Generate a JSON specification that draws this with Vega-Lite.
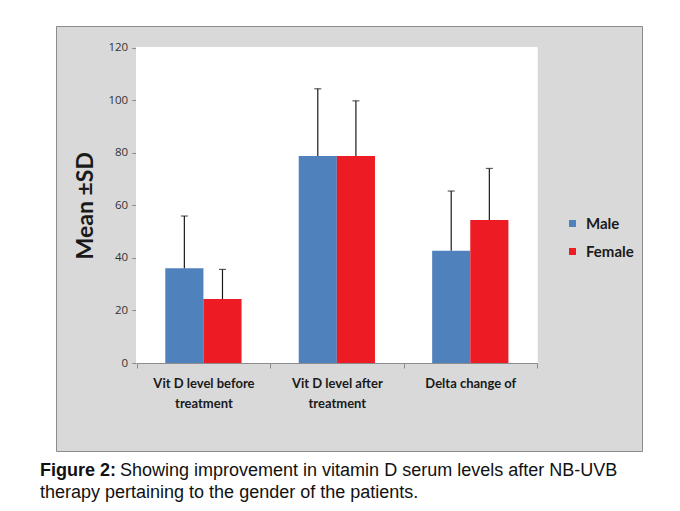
{
  "$schema": "https://vega.github.io/schema/vega-lite/v6.json",
  "autosize": {"type": "none"},
  "padding": {"left": 56, "top": 26, "right": 38, "bottom": 60},
  "width": 586,
  "height": 425,
  "background": "white",
  "config": {
    "view": {"fill": "#d9d9d9", "stroke": "#8c8c8c", "strokeWidth": 1},
    "axis": {"grid": false}
  },
  "title": {
    "text": "Figure 2:",
    "subtitle": ["\u200b\u00a0\u00a0\u00a0\u00a0\u00a0\u00a0\u00a0\u00a0\u00a0\u00a0\u00a0\u00a0\u00a0\u00a0\u00a0\u00a0Showing improvement in vitamin D serum levels after NB-UVB", "therapy pertaining to the gender of the patients."],
    "orient": "bottom",
    "anchor": "start",
    "frame": "group",
    "dx": -16,
    "offset": 11,
    "font": "Liberation Sans",
    "fontSize": 18,
    "fontWeight": "bold",
    "color": "#111111",
    "subtitleFont": "Liberation Sans",
    "subtitleFontSize": 18,
    "subtitleFontWeight": "normal",
    "subtitleColor": "#111111",
    "subtitleLineHeight": 22,
    "subtitlePadding": -18
  },
  "data": {
    "values": [
      {"category": "Vit D level before treatment", "sex": "Male", "mean": 36.0, "upper": 55.9},
      {"category": "Vit D level before treatment", "sex": "Female", "mean": 24.3, "upper": 35.6},
      {"category": "Vit D level after treatment", "sex": "Male", "mean": 78.7, "upper": 104.3},
      {"category": "Vit D level after treatment", "sex": "Female", "mean": 78.7, "upper": 99.7},
      {"category": "Delta change of", "sex": "Male", "mean": 42.7, "upper": 65.4},
      {"category": "Delta change of", "sex": "Female", "mean": 54.4, "upper": 74.0}
    ]
  },
  "encoding": {
    "x": {
      "field": "category",
      "type": "nominal",
      "sort": null,
      "scale": {"range": [80.7, 481], "paddingInner": 0, "paddingOuter": 0},
      "axis": {
        "title": null,
        "offset": -88,
        "labelAngle": 0,
        "labelFont": "Lato",
        "labelFontWeight": "bold",
        "labelFontSize": 13,
        "labelColor": "#1a1a1a",
        "labelPadding": 9,
        "labelLineHeight": 20,
        "labelLimit": 200,
        "labelExpr": "indexof(datum.label, ' treatment') > 0 ? [slice(datum.label, 0, indexof(datum.label, ' treatment')), 'treatment'] : datum.label",
        "tickBand": "extent",
        "tickSize": 5,
        "tickColor": "#8c8c8c",
        "domainColor": "#8c8c8c"
      }
    }
  },
  "layer": [
    {
      "mark": {"type": "rect", "fill": "white", "stroke": "white", "strokeWidth": 1},
      "encoding": {
        "y": {"datum": 0, "type": "quantitative", "scale": {"domain": [0, 120], "range": [337, 21.5], "nice": false}},
        "y2": {"datum": 120}
      }
    },
    {
      "mark": {"type": "bar"},
      "encoding": {
        "xOffset": {"field": "sex", "type": "nominal", "sort": ["Male", "Female"], "scale": {"paddingInner": 0, "paddingOuter": 0.75}},
        "y": {
          "field": "mean",
          "type": "quantitative",
          "scale": {"domain": [0, 120], "range": [337, 21.5], "nice": false},
          "axis": {
            "title": "Mean ±SD",
            "titleFont": "Lato",
            "titleFontWeight": "bold",
            "titleFontSize": 23,
            "titleColor": "#1a1a1a",
            "titlePadding": 10,
            "offset": -80.7,
            "values": [0, 20, 40, 60, 80, 100, 120],
            "labelFont": "Open Sans",
            "labelFontSize": 11.5,
            "labelColor": "#333333",
            "labelPadding": 4,
            "tickSize": 5,
            "tickColor": "#8c8c8c",
            "domainColor": "#8c8c8c"
          }
        },
        "color": {
          "field": "sex",
          "type": "nominal",
          "scale": {"domain": ["Male", "Female"], "range": ["#4f81bd", "#ed1c24"]},
          "legend": {
            "title": null,
            "orient": "none",
            "legendX": 509,
            "legendY": 190,
            "symbolType": "square",
            "symbolSize": 49,
            "symbolStrokeWidth": 0,
            "labelFont": "Lato",
            "labelFontWeight": "bold",
            "labelFontSize": 15,
            "labelColor": "#1a1a1a",
            "labelOffset": 6,
            "rowPadding": 12,
            "padding": 0
          }
        }
      }
    },
    {
      "mark": {"type": "rule", "color": "#1a1a1a", "strokeWidth": 1.2},
      "encoding": {
        "xOffset": {"field": "sex", "type": "nominal", "sort": ["Male", "Female"]},
        "y": {"field": "mean", "type": "quantitative"},
        "y2": {"field": "upper"}
      }
    },
    {
      "mark": {"type": "tick", "color": "#1a1a1a", "thickness": 1.2, "size": 7, "orient": "horizontal"},
      "encoding": {
        "xOffset": {"field": "sex", "type": "nominal", "sort": ["Male", "Female"]},
        "y": {"field": "upper", "type": "quantitative"}
      }
    }
  ]
}
